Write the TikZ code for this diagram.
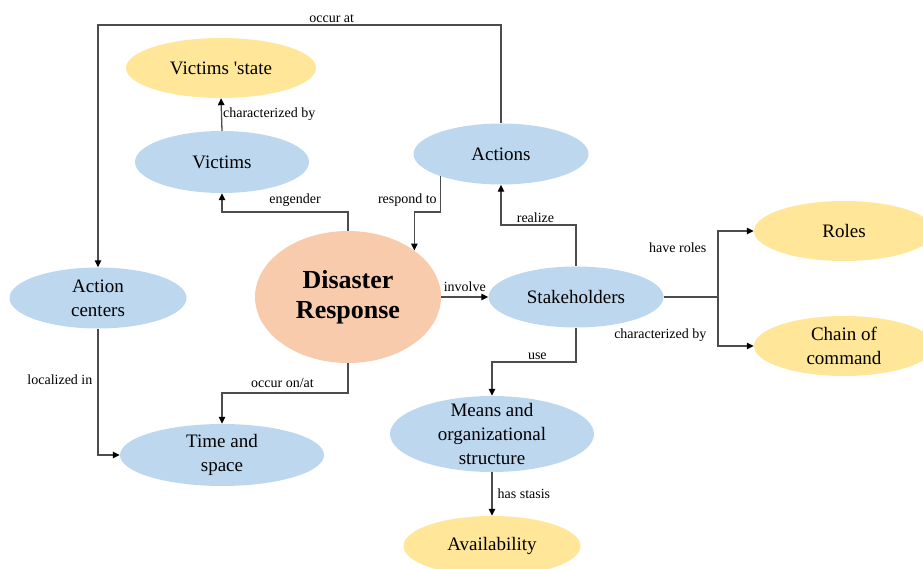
\documentclass[tikz,border=0pt]{standalone}
\usepackage{fontspec}
\setmainfont{Liberation Serif}
\usetikzlibrary{arrows.meta,shapes.geometric}
\definecolor{conceptblue}{HTML}{BDD7EE}
\definecolor{attryellow}{HTML}{FFE699}
\definecolor{coreorange}{HTML}{F8CBAD}

\begin{document}
\begin{tikzpicture}[x=1pt,y=-1pt,>={Triangle[length=7pt,width=6.5pt,color=black]}]
  \tikzstyle{concept}=[ellipse,inner sep=0pt,align=center,fill=conceptblue,font=\fontsize{19}{24}\selectfont]
  \tikzstyle{attribute}=[concept,fill=attryellow]
  \tikzstyle{core}=[ellipse,inner sep=0pt,align=center,fill=coreorange,font=\fontsize{26}{30}\selectfont\bfseries]
  \tikzstyle{link}=[->,draw=black!70,line width=1.3pt]
  \tikzstyle{lbl}=[font=\fontsize{14}{16}\selectfont,inner sep=2pt,text=black]

  \useasboundingbox (0,0) rectangle (923,569);

  % nodes
  \node[core, minimum width=186pt, minimum height=132pt] (dr)  at (348,297) {Disaster\\Response};
  \node[attribute, minimum width=190pt, minimum height=60pt] (vs)  at (221,68)  {Victims \textquotesingle state};
  \node[concept, minimum width=174pt, minimum height=62pt]   (vic) at (222,162) {Victims};
  \node[concept, minimum width=175pt, minimum height=61pt]   (act) at (501,154) {Actions};
  \node[concept, minimum width=177pt, minimum height=61pt]   (ac)  at (98,298)  {Action\\centers};
  \node[concept, minimum width=175pt, minimum height=61pt]   (sh)  at (576,297) {Stakeholders};
  \node[attribute, minimum width=180pt, minimum height=60pt] (rol) at (844,231) {Roles};
  \node[attribute, minimum width=180pt, minimum height=60pt] (coc) at (844,346) {Chain of\\command};
  \node[concept, minimum width=204pt, minimum height=62pt]   (tas) at (222,455) {Time and\\space};
  \node[concept, minimum width=204pt, minimum height=76pt, inner ysep=-10pt] (mos) at (492,434) {Means and\\organizational\\structure};
  \node[attribute, minimum width=177pt, minimum height=60pt] (av)  at (492,546) {Availability};

  % connectors
  \draw[link] (act.north) -- (act.north |- 0,25) -| node[lbl,above,pos=0.21]{occur at} (ac.north);
  \draw[link] (vic.north) -- node[lbl,right,inner sep=1pt]{characterized by} (vs.south);
  \draw[link] (dr.north) -- (dr.north |- 0,212) -| node[lbl,above=3pt,pos=0.21]{engender} (vic.south);
  \draw[link] (act.200) -- (act.200 |- 0,212) -| node[lbl,above=3pt,pos=0.5,xshift=-7pt]{respond to} (dr.35);
  \draw[link] (sh.north) -- (sh.north |- 0,225) -| node[lbl,above,pos=0.27]{realize} (act.south);
  \draw[link] (dr.east) -- node[lbl,above=3pt]{involve} (sh.west);
  \coordinate (split) at (718,297);
  \draw[draw=black!70,line width=1.3pt] (sh.east) -- (split);
  \draw[link] (split) |- node[lbl,left,pos=0.37,xshift=-9pt]{have roles} (rol.west);
  \draw[link] (split) |- node[lbl,left,pos=0.39,xshift=-9pt]{characterized by} (coc.west);
  \draw[link] (sh.south) -- (sh.south |- 0,362) -| node[lbl,above,pos=0.23]{use} (mos.north);
  \draw[link] (mos.south) -- node[lbl,right,xshift=3pt]{has stasis} (av.north);
  \draw[link] (ac.south) |- node[lbl,left,pos=0.2,xshift=-3pt]{localized in} (tas.west);
  \draw[link] (dr.south) -- (dr.south |- 0,393) -| node[lbl,above=3pt,pos=0.26]{occur on/at} (tas.north);
\end{tikzpicture}
\end{document}
